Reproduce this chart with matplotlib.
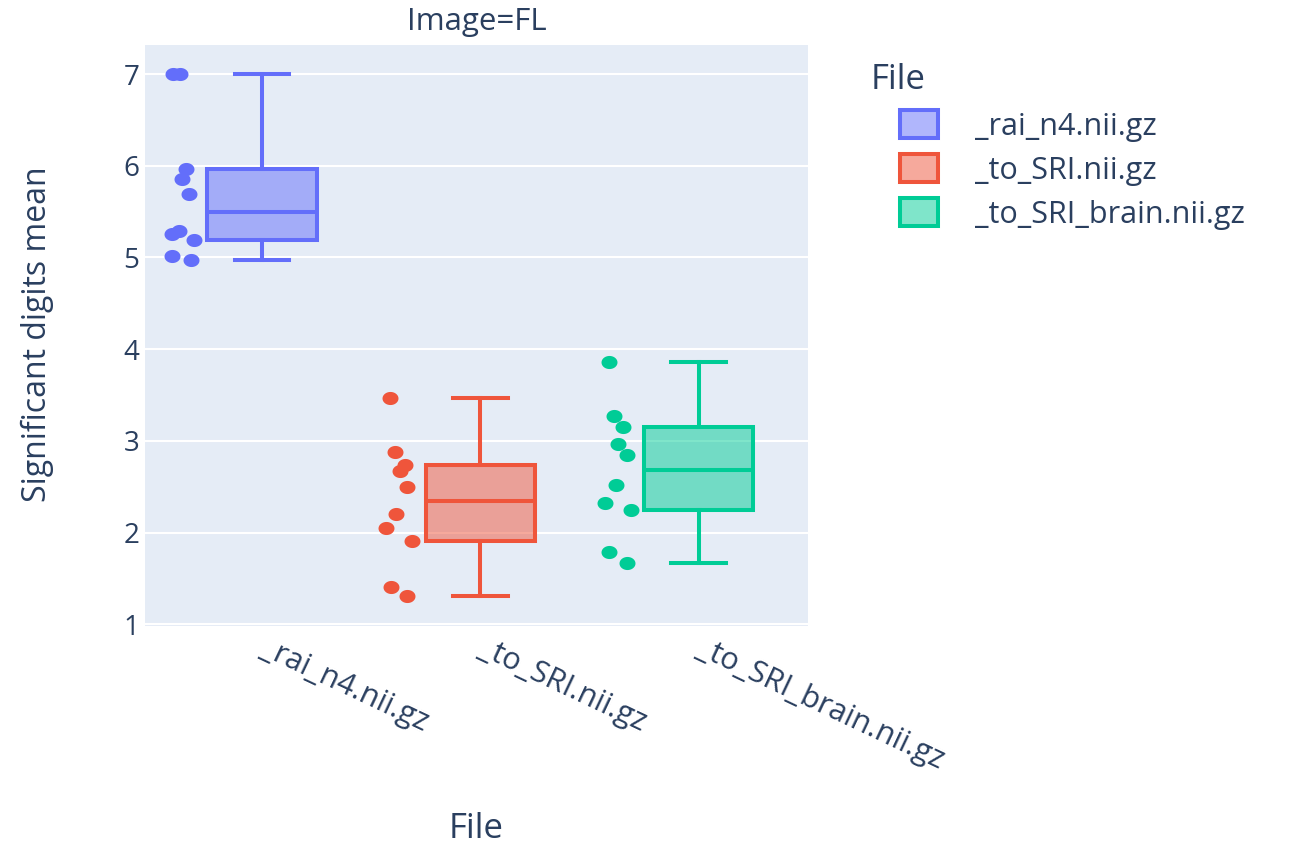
import matplotlib
matplotlib.use("Agg")
import matplotlib.pyplot as plt
from matplotlib import cbook
from matplotlib.patches import Patch
from matplotlib.path import Path
import numpy as np

plt.rcParams['font.family'] = ['Open Sans', 'DejaVu Sans']

# values
files = ["_rai_n4.nii.gz", "_to_SRI.nii.gz", "_to_SRI_brain.nii.gz"]
colors = ["#636EFA", "#EF553B", "#00CC96"]

rai_n4 = [7.0, 7.0, 5.96, 5.85, 5.69, 5.29, 5.26, 5.19, 5.02, 4.975]
to_sri = [3.47, 2.88, 2.74, 2.67, 2.495, 2.20, 2.05, 1.907, 1.41, 1.31]
to_sri_brain = [3.86, 3.276, 3.149, 2.97, 2.85, 2.517, 2.325, 2.245, 1.79, 1.664]

# horizontal spread of the points (category units, relative to the box)
rai_n4_jitter = [-0.408, -0.376, -0.348, -0.368, -0.333, -0.379, -0.414, -0.310, -0.411, -0.327]
to_sri_jitter = [-0.415, -0.389, -0.346, -0.369, -0.334, -0.384, -0.430, -0.312, -0.411, -0.334]
to_sri_brain_jitter = [-0.410, -0.387, -0.345, -0.367, -0.329, -0.379, -0.428, -0.309, -0.410, -0.329]

series = [rai_n4, to_sri, to_sri_brain]
jitters = [rai_n4_jitter, to_sri_jitter, to_sri_brain_jitter]

text_color = "#2a3f5f"
W, H = 1295, 846

# the reference is a bit wider than tall, so dots are slightly oval
t = np.linspace(0, 2 * np.pi, 60)
oval = Path(np.column_stack([1.22 * np.cos(t), np.sin(t)]), closed=True)

fig = plt.figure(figsize=(W / 100, H / 100), dpi=100)
ax = fig.add_axes([145 / W, 1 - 625.7 / H, (808.3 - 145) / W, (625.7 - 45.3) / H])
ax.set_facecolor("#E5ECF6")
for s in ax.spines.values():
    s.set_visible(False)
ax.set_axisbelow(True)
ax.grid(axis="y", color="white", linewidth=1.5)

for i, (vals, jit, col) in enumerate(zip(series, jitters, colors)):
    st = cbook.boxplot_stats(np.array(vals))[0]
    # plotly-style quartiles
    st["q1"] = np.percentile(vals, 25, method="nearest")
    st["q3"] = np.percentile(vals, 75, method="nearest")
    st["fliers"] = []
    lw = 2.9
    ax.bxp([st], positions=[i], widths=0.5, patch_artist=True, showfliers=False,
           capwidths=[0.25],
           boxprops=dict(facecolor=matplotlib.colors.to_rgba(col, 0.5), edgecolor=col, linewidth=lw),
           medianprops=dict(color=col, linewidth=lw),
           whiskerprops=dict(color=col, linewidth=lw),
           capprops=dict(color=col, linewidth=lw))
    ax.plot(i + np.array(jit), vals, linestyle="none", marker=oval, color=col,
            markersize=11.5, markeredgewidth=0, zorder=3)

ax.set_xlim(-0.536, 2.503)
ax.set_ylim(0.984, 7.313)
ax.set_yticks([1, 2, 3, 4, 5, 6, 7])
ax.set_xticks([0, 1, 2])
ax.set_xticklabels(files, rotation=-25.3, ha="left", va="center", rotation_mode="anchor")
ax.tick_params(axis="both", length=0, labelcolor=text_color)
ax.tick_params(axis="y", pad=4, labelsize=20)
ax.tick_params(axis="x", pad=15, labelsize=22)

fig.text(477 / W, 1 - 22 / H, "Image=FL", ha="center", va="center", color=text_color, fontsize=22.5)
fig.text(476.5 / W, 1 - 829 / H, "File", ha="center", va="center", color=text_color, fontsize=25)
fig.text(37 / W, 1 - 334 / H, "Significant digits mean", ha="center", va="center",
         rotation=90, color=text_color, fontsize=23)

fig.text(871 / W, 1 - 80 / H, "File", ha="left", va="center", color=text_color, fontsize=25)
handles = [Patch(facecolor=matplotlib.colors.to_rgba(c, 0.5), edgecolor=c, linewidth=2.9) for c in colors]
leg = fig.legend(handles, files, loc="upper left", bbox_to_anchor=(900 / W, 1 - 110.5 / H),
                 frameon=False, fontsize=22, borderpad=0, borderaxespad=0,
                 handlelength=1.24, handleheight=1.0, handletextpad=1.2, labelspacing=0.42)
for t in leg.get_texts():
    t.set_color(text_color)

fig.savefig("out.png", dpi=100)
